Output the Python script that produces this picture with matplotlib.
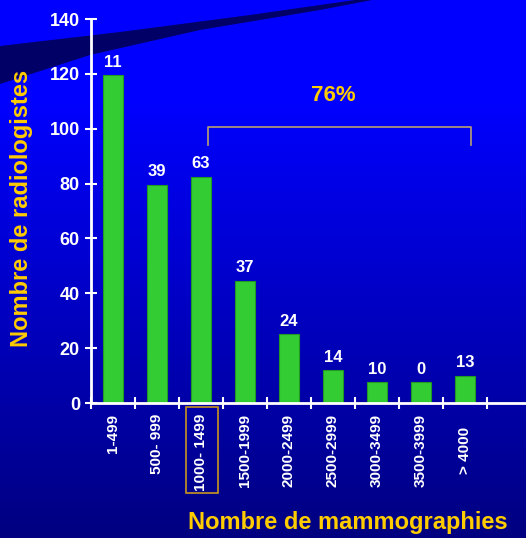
import numpy as np
import matplotlib
matplotlib.use("Agg")
import matplotlib.pyplot as plt
from matplotlib.patches import Polygon, Rectangle

plt.rcParams['font.family'] = ['Liberation Sans', 'DejaVu Sans']
plt.rcParams['font.weight'] = 'bold'

# data
categories = ['1-499', '500- 999', '1000- 1499', '1500-1999', '2000-2499',
              '2500-2999', '3000-3499', '3500-3999', '> 4000']
heights = [119.5, 79.5, 82.5, 44.5, 25, 12, 7.5, 7.5, 10]
bar_labels = ['11', '39', '63', '37', '24', '14', '10', '0', '13']

GOLD = '#ffcc00'
W, H = 526, 538

fig = plt.figure(figsize=(W / 100, H / 100), dpi=100)

# background: vertical gradient (bright blue until ~y=100, then darker) + dark swoosh
bg = fig.add_axes([0, 0, 1, 1], zorder=0)
rows = np.arange(H)
frac = np.clip((rows - 100) / (H - 100), 0, 1).reshape(-1, 1)
top = np.array([0.0, 0.0, 1.0])
bottom = np.array([0.0, 0.0, 0.50])
img = top + (bottom - top) * frac[:, :, None]
bg.imshow(img, extent=[0, W, H, 0], aspect='auto')
swoosh = [(0, 46), (120, 32), (250, 15), (355, 0), (372, 0),
          (320, 10), (200, 30), (90, 55), (0, 84)]
bg.add_patch(Polygon(swoosh, closed=True, facecolor='#000066', edgecolor='none'))
bg.set_xlim(0, W)
bg.set_ylim(H, 0)
bg.axis('off')

# main chart
ax = fig.add_axes([91 / W, 1 - 403 / H, 1 - 91 / W, (403 - 19) / H], zorder=1)
ax.patch.set_alpha(0)
x = np.arange(len(categories))
ax.bar(x, heights, width=0.45, color='#33cc33', edgecolor='#229922', linewidth=0.8)

for xi, h, lab in zip(x, heights, bar_labels):
    ax.text(xi, h + 2, lab, ha='center', va='bottom', color='white',
            fontsize=12, fontweight='bold')

ax.set_xlim(-0.5, 9.39)
ax.set_ylim(0, 140)
ax.set_yticks(np.arange(0, 141, 20))
ax.set_xticks(x)
# the last label sits a little lower in the original
tick_text = [c + '   ' if c.startswith('>') else c for c in categories]
ax.set_xticklabels(tick_text, rotation=90, va='top', ha='center')
ax.set_xticks(np.arange(-0.5, 9, 1), minor=True)
ax.tick_params(axis='x', which='major', length=0, pad=8, labelsize=11,
               labelcolor='white')
ax.tick_params(axis='x', which='minor', direction='inout', length=8,
               width=1.5, color='white')
ax.tick_params(axis='y', direction='inout', length=8, width=1.5,
               color='white', labelcolor='white', labelsize=13, pad=4)
for lbl in ax.get_xticklabels() + ax.get_yticklabels():
    lbl.set_fontweight('bold')

for side in ['top', 'right']:
    ax.spines[side].set_visible(False)
for side in ['left', 'bottom']:
    ax.spines[side].set_color('white')
    ax.spines[side].set_linewidth(2)

# bracket and 76%
bx0, bx1, by_top, by_end = 2.16, 8.14, 100.6, 94
ax.plot([bx0, bx0, bx1, bx1], [by_end, by_top, by_top, by_end],
        color='#b8a070', linewidth=1.2, clip_on=False)
ax.text((bx0 + bx1) / 2 - 0.15, 112, '76%', ha='center', va='center',
        color=GOLD, fontsize=16, fontweight='bold')

# box around 1000- 1499
fig.patches.append(Rectangle((186 / W, 1 - 493 / H), 32 / W, 86 / H,
                             transform=fig.transFigure, fill=False,
                             edgecolor='#c8961e', linewidth=1.2))

fig.text(22 / W, 1 - 208 / H, 'Nombre de radiologistes', rotation=90,
         ha='center', va='center', color=GOLD, fontsize=17, fontweight='bold')
fig.text(348 / W, 1 - 523 / H, 'Nombre de mammographies',
         ha='center', va='center', color=GOLD, fontsize=17, fontweight='bold')

fig.savefig('out.png', dpi=100)
